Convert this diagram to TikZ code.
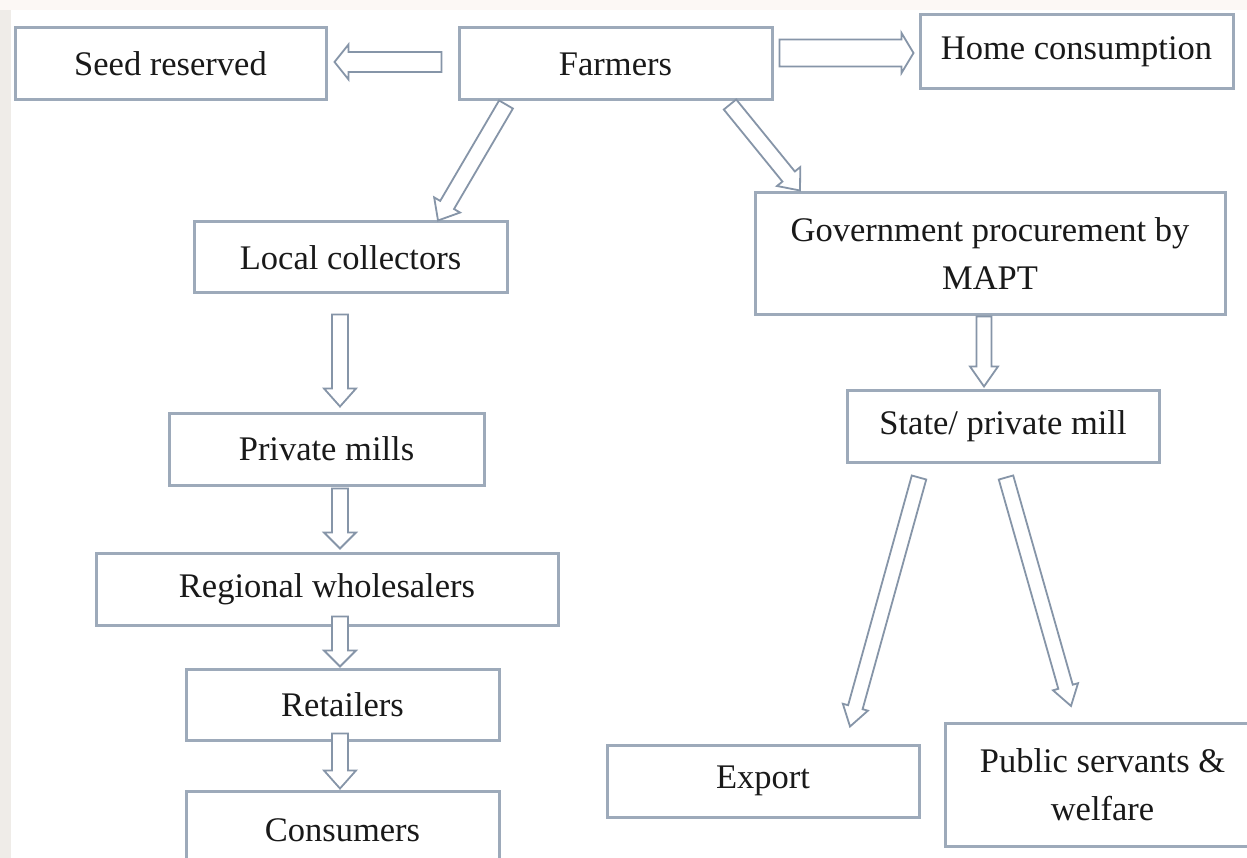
\documentclass[tikz,border=0pt]{standalone}
\usepackage{fontspec}
\setmainfont{Liberation Serif}
\usetikzlibrary{calc}

\definecolor{boxline}{HTML}{9DAABA}
\definecolor{arrline}{HTML}{8695A8}
\definecolor{paper}{HTML}{FCF8F5}
\definecolor{sidepaper}{HTML}{EFECE8}

\tikzset{
  stage/.style={draw=boxline, line width=3pt, fill=white, rectangle,
    align=center, inner sep=0pt, text=black!90,
    font=\fontsize{34.5}{48}\selectfont},
  flowarr/.style={draw=arrline, line width=1.8pt, fill=white, line join=miter},
}

% Hollow block arrow from #1 to #2:
% #3 = half shaft width, #4 = half head width, #5 = head length (all in pt)
\newcommand{\flowarrow}[5]{%
  \draw[flowarr] let \p1=(#1), \p2=(#2),
      \n1={atan2(\y2-\y1,\x2-\x1)},
      \n2={veclen(\x2-\x1,\y2-\y1)-#5}
    in ($(\p1)+(\n1+90:#3pt)$)
    -- ($(\p1)+(\n1:{\n2*1pt})+(\n1+90:#3pt)$)
    -- ($(\p1)+(\n1:{\n2*1pt})+(\n1+90:#4pt)$)
    -- (\p2)
    -- ($(\p1)+(\n1:{\n2*1pt})+(\n1-90:#4pt)$)
    -- ($(\p1)+(\n1:{\n2*1pt})+(\n1-90:#3pt)$)
    -- ($(\p1)+(\n1-90:#3pt)$)
    -- cycle;}

\begin{document}
\begin{tikzpicture}[x=1pt,y=-1pt]
  % page background
  \fill[paper] (0,0) rectangle (1247,858);
  \fill[sidepaper] (0,10) rectangle (11,858);
  \fill[white] (11,10) rectangle (1247,858);
  \useasboundingbox (0,0) rectangle (1247,858);

  % top row
  \node[stage, minimum width=311pt, minimum height=72pt] (seed) at (170.5,64) {Seed reserved};
  \node[stage, minimum width=313pt, minimum height=72pt] (farmers) at (615.5,64) {Farmers};
  \node[stage, minimum width=313pt, minimum height=74pt] (home) at (1076.5,52) {Home consumption};

  % private chain (left)
  \node[stage, minimum width=313pt, minimum height=71pt] (local) at (350.5,257.5) {Local collectors};
  \node[stage, minimum width=315pt, minimum height=72pt] (private) at (326.5,449) {Private mills};
  \node[stage, minimum width=462pt, minimum height=72pt] (regional) at (327,589) {Regional wholesalers};
  \node[stage, minimum width=313pt, minimum height=71pt] (retailers) at (342.5,704.5) {Retailers};
  \node[stage, minimum width=313pt, minimum height=79pt] (consumers) at (342.5,830.5) {Consumers};

  % government chain (right)
  \node[stage, minimum width=470pt, minimum height=122pt] (gov) at (990,254) {Government procurement by\\MAPT};
  \node[stage, minimum width=312pt, minimum height=72pt] (state) at (1003,426) {State/ private mill};
  \node[stage, minimum width=312pt, minimum height=72pt] (export) at (763,781) {Export};
  \node[stage, minimum width=315pt, minimum height=123pt] (public) at (1102.5,785) {Public servants \&\\welfare};

  % flows
  \flowarrow{$(farmers.west)+(-16,-2)$}{$(seed.east)+(7,-2)$}{10}{17.5}{14}
  \flowarrow{$(farmers.east)+(6,-11)$}{$(home.west)+(-5,1)$}{13.5}{20}{12}
  \flowarrow{$(farmers.south)+(-109.5,3)$}{$(local.north)+(87.5,0)$}{8}{15}{18}
  \flowarrow{$(farmers.south)+(114.5,3)$}{$(gov.north)+(-190,-1)$}{8}{15}{18}

  \flowarrow{$(local.south)+(-10.5,20)$}{$(private.north)+(13.5,-5)$}{8}{16}{18}
  \flowarrow{$(private.south)+(13.5,2)$}{$(regional.north)+(13,-3)$}{8}{16}{16}
  \flowarrow{$(regional.south)+(13,-10)$}{$(retailers.north)+(-2.5,-1)$}{8}{16}{16}
  \flowarrow{$(retailers.south)+(-2.5,-8)$}{$(consumers.north)+(-2.5,-1)$}{8}{16}{18}

  \flowarrow{$(gov.south)+(-6,0)$}{$(state.north)+(-19,-2)$}{7.5}{14}{20}
  \flowarrow{$(state.south)+(-84,14)$}{$(export.north)+(87,-17)$}{7.5}{13}{20}
  \flowarrow{$(state.south)+(3,14)$}{$(public.north)+(-31.5,-16)$}{7.5}{13}{20}
\end{tikzpicture}
\end{document}
